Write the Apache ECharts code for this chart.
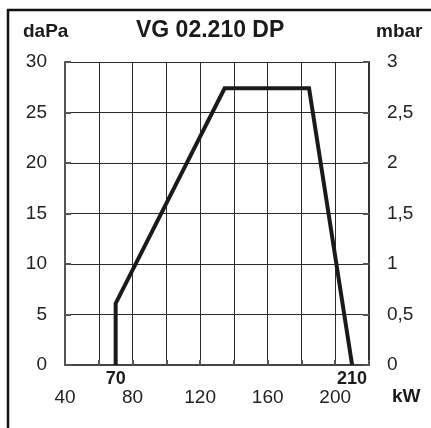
<!DOCTYPE html>
<html>
<head>
<meta charset="utf-8">
<script src="https://cdn.jsdelivr.net/npm/echarts@6/dist/echarts.min.js"></script>
<style>
html,body{margin:0;padding:0;background:#fff;}
#c{width:431px;height:428px;}
</style>
</head>
<body>
<div id="c"></div>
<script>
// Data
const titleText = 'VG 02.210 DP';
const leftUnit = 'daPa';
const rightUnit = 'mbar';
const xUnit = 'kW';
const curveKW = [70, 70, 134.5, 184.5, 210];
const curveDaPa = [0, 6.1, 27.4, 27.4, 0];
const markedKW = [70, 210];
const xLabelValues = [40, 80, 120, 160, 200];

const FONT = 'Liberation Sans, Arial, Helvetica, sans-serif';
const chart = echarts.init(document.getElementById('c'), null, {renderer: 'canvas'});

const points = curveKW.map((x, i) => [x, curveDaPa[i]]);

chart.setOption({
  backgroundColor: '#fff',
  animation: false,
  title: [
    {text: titleText, left: 131, top: 14, textStyle: {fontFamily: FONT, fontSize: 23, fontWeight: 'bold', color: '#1a1a1a'}},
    {text: leftUnit, left: 18, top: 17, textStyle: {fontFamily: FONT, fontSize: 19, fontWeight: 'bold', color: '#1a1a1a'}},
    {text: rightUnit, left: 371, top: 17, textStyle: {fontFamily: FONT, fontSize: 19, fontWeight: 'bold', color: '#1a1a1a'}}
  ],
  grid: {left: 65, right: 62, top: 62, bottom: 63, containLabel: false},
  xAxis: [
    {
      type: 'value', min: 40, max: 220, interval: 20, position: 'bottom',
      axisLine: {show: true, lineStyle: {color: '#444', width: 2}},
      axisTick: {show: true, inside: true, length: 5, lineStyle: {color: '#555', width: 2}},
      splitLine: {show: true, lineStyle: {color: '#2a2a2a', width: 1}},
      axisLabel: {
        customValues: xLabelValues, margin: 23,
        fontFamily: FONT, fontSize: 19, color: '#222'
      }
    },
    {
      type: 'value', min: 40, max: 220, position: 'bottom',
      axisLine: {show: false}, axisTick: {show: false}, splitLine: {show: false},
      axisLabel: {
        customValues: markedKW, margin: 5,
        fontFamily: FONT, fontSize: 18, fontWeight: 'bold', color: '#1a1a1a'
      }
    }
  ],
  yAxis: [
    {
      type: 'value', min: 0, max: 30, interval: 5, position: 'left',
      axisLine: {show: true, lineStyle: {color: '#555', width: 2}},
      axisTick: {show: true, inside: true, length: 6, lineStyle: {color: '#555', width: 2}},
      splitLine: {show: true, lineStyle: {color: '#2a2a2a', width: 1}},
      axisLabel: {margin: 18, fontFamily: FONT, fontSize: 19, color: '#222'}
    },
    {
      type: 'value', min: 0, max: 3, interval: 0.5, position: 'right',
      axisLine: {show: true, lineStyle: {color: '#333', width: 2}},
      axisTick: {show: true, inside: true, length: 6, lineStyle: {color: '#555', width: 2}},
      splitLine: {show: false},
      axisLabel: {
        margin: 18, fontFamily: FONT, fontSize: 19, color: '#222',
        formatter: v => String(v).replace('.', ',')
      }
    }
  ],
  graphic: [
    {type: 'rect', shape: {x: 8, y: 10, width: 600, height: 600}, style: {fill: 'none', stroke: '#111', lineWidth: 2.5}, silent: true},
    {type: 'text', left: 392, top: 387, style: {text: xUnit, font: 'bold 19px ' + FONT, fill: '#1a1a1a'}}
  ],
  series: [
    {
      type: 'line', xAxisIndex: 0, yAxisIndex: 0, data: points,
      symbol: 'none', lineStyle: {color: '#1a1a1a', width: 4, join: 'miter'}
    }
  ]
});
</script>
</body>
</html>
